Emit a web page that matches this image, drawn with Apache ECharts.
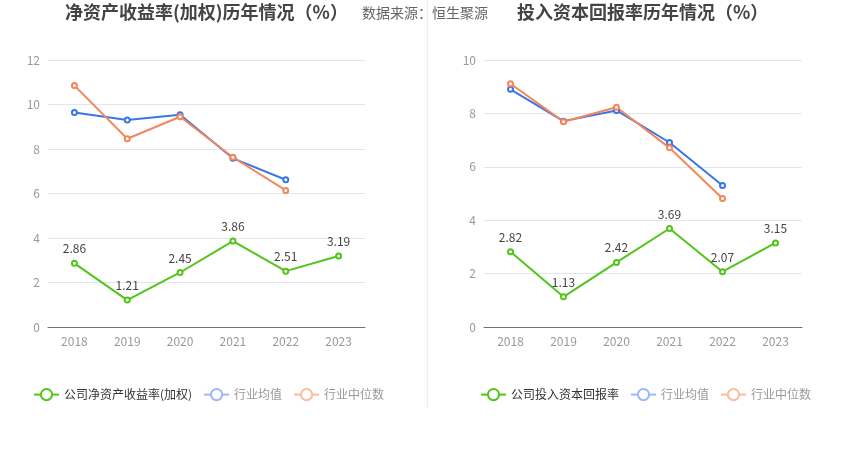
<!DOCTYPE html>
<html>
<head>
<meta charset="utf-8">
<script src="https://cdn.jsdelivr.net/npm/echarts@6/dist/echarts.min.js"></script>
<style>
  html, body { margin: 0; padding: 0; background: #fff; }
  #main { width: 850px; height: 458px; }
</style>
</head>
<body>
<div id="main"></div>
<script>
// 年份
var years = ["2018", "2019", "2020", "2021", "2022", "2023"];

// 净资产收益率(加权)
var roeCompany = [2.86, 1.21, 2.45, 3.86, 2.51, 3.19];
var roeMean = [9.64, 9.30, 9.54, 7.58, 6.62];
var roeMedian = [10.85, 8.46, 9.45, 7.63, 6.14];

// 投入资本回报率
var roicCompany = [2.82, 1.13, 2.42, 3.69, 2.07, 3.15];
var roicMean = [8.90, 7.71, 8.11, 6.91, 5.30];
var roicMedian = [9.11, 7.69, 8.23, 6.71, 4.81];

var green = "#52c41a", blue = "#3a76e4", orange = "#f5865a";
var font = "'Noto Sans CJK SC', 'Noto Sans', sans-serif";

function lineSeries(name, data, color, idx, withLabel) {
  return {
    name: name,
    type: "line",
    xAxisIndex: idx,
    yAxisIndex: idx,
    data: data,
    symbol: "emptyCircle",
    symbolSize: 5,
    lineStyle: { width: 2, color: color },
    itemStyle: { color: color, borderWidth: 1.5 },
    label: {
      show: withLabel,
      position: "top",
      color: "#444",
      fontSize: 12,
      fontFamily: font
    },
    emphasis: { disabled: true }
  };
}

function xAxis(idx) {
  return {
    type: "category",
    gridIndex: idx,
    data: years,
    axisLine: { lineStyle: { color: "#6e7079" } },
    axisTick: { alignWithLabel: true, length: 4, lineStyle: { color: "#6e7079" } },
    axisLabel: { color: "#999", fontSize: 12, fontFamily: font, margin: 8 }
  };
}

function yAxis(idx, max) {
  return {
    type: "value",
    gridIndex: idx,
    min: 0,
    max: max,
    interval: 2,
    axisLine: { show: false },
    axisTick: { show: false },
    axisLabel: { color: "#999", fontSize: 12, fontFamily: font, margin: 8 },
    splitLine: { lineStyle: { color: "#e0e6f1" } }
  };
}

function legendData(first) {
  return [
    { name: first, textStyle: { color: "#333" } },
    { name: "行业均值", textStyle: { color: "#999" }, itemStyle: { color: "#9bb9f3" }, lineStyle: { color: "#9bb9f3" } },
    { name: "行业中位数", textStyle: { color: "#999" }, itemStyle: { color: "#f9bba2" }, lineStyle: { color: "#f9bba2" } }
  ];
}

var myChart = echarts.init(document.getElementById("main"));
myChart.setOption({
  animation: false,
  title: [
    {
      text: "净资产收益率(加权)历年情况（%）",
      left: 60, top: -2,
      textStyle: { fontSize: 18, fontWeight: "bold", color: "#444", fontFamily: font }
    },
    {
      text: "数据来源：恒生聚源",
      left: 357, top: 1,
      textStyle: { fontSize: 14, fontWeight: "normal", color: "#666", fontFamily: font }
    },
    {
      text: "投入资本回报率历年情况（%）",
      left: 512, top: -2,
      textStyle: { fontSize: 18, fontWeight: "bold", color: "#444", fontFamily: font }
    }
  ],
  legend: [
    {
      left: 28, top: 383,
      itemWidth: 25, itemHeight: 14, itemGap: 11,
      textStyle: { fontSize: 12, fontFamily: font },
      data: legendData("公司净资产收益率(加权)"),
      selectedMode: false
    },
    {
      left: 475, top: 383,
      itemWidth: 25, itemHeight: 14, itemGap: 11,
      textStyle: { fontSize: 12, fontFamily: font },
      data: legendData("公司投入资本回报率"),
      selectedMode: false
    }
  ],
  grid: [
    { left: 48, right: 485, top: 60, bottom: 131 },
    { left: 484, right: 48, top: 60, bottom: 131 }
  ],
  xAxis: [xAxis(0), xAxis(1)],
  yAxis: [yAxis(0, 12), yAxis(1, 10)],
  graphic: [
    {
      type: "line",
      shape: { x1: 427.5, y1: 0, x2: 427.5, y2: 408 },
      style: { stroke: "#eeeeee", lineWidth: 1 }
    }
  ],
  series: [
    lineSeries("公司净资产收益率(加权)", roeCompany, green, 0, true),
    lineSeries("行业均值", roeMean, blue, 0, false),
    lineSeries("行业中位数", roeMedian, orange, 0, false),
    lineSeries("公司投入资本回报率", roicCompany, green, 1, true),
    lineSeries("行业均值", roicMean, blue, 1, false),
    lineSeries("行业中位数", roicMedian, orange, 1, false)
  ]
});
</script>
</body>
</html>
